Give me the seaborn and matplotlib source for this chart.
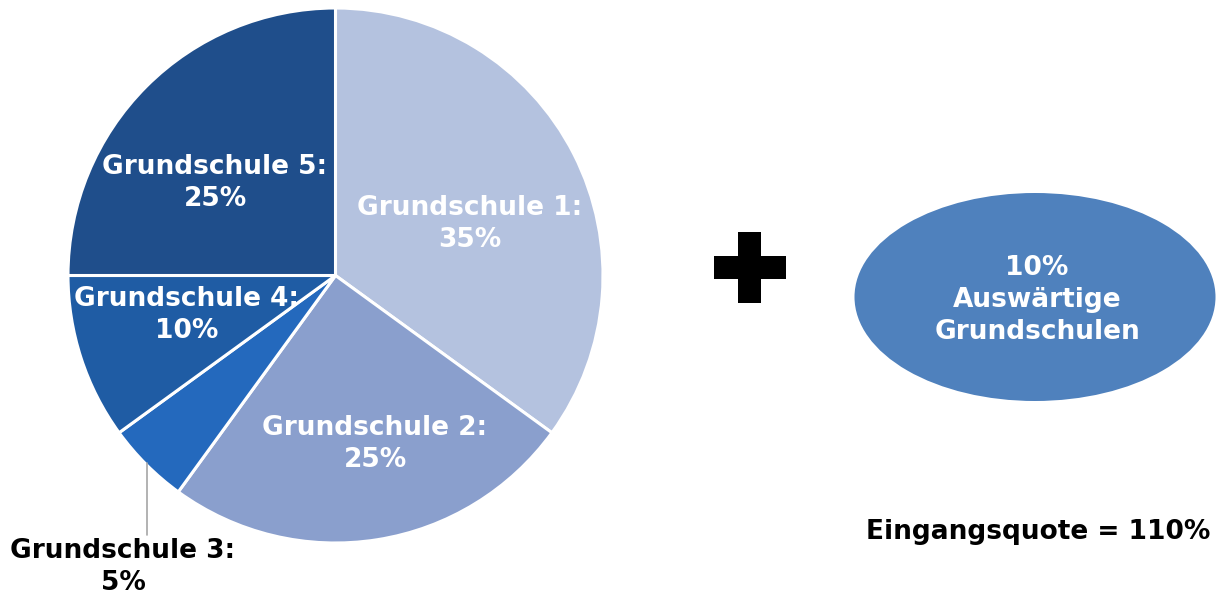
import matplotlib
matplotlib.use("Agg")
import matplotlib.pyplot as plt
from matplotlib.patches import Ellipse, Rectangle
import seaborn as sns

# Anteile der Grundschulen an der Eingangsquote
schools = ["Grundschule 1", "Grundschule 2", "Grundschule 3", "Grundschule 4", "Grundschule 5"]
shares = [35, 25, 5, 10, 25]
external_share = 10
external_label = "Auswärtige\nGrundschulen"
total_quote = 110

colors = ["#B4C2DF", "#8A9FCD", "#2469BD", "#1F5CA4", "#1F4E8B"]

sns.set_theme(style="white")
plt.rcParams["font.family"] = ["DejaVu Sans"]

W, H = 1228, 595
fig = plt.figure(figsize=(W / 100, H / 100), dpi=100)
ax = fig.add_axes([0, 0, 1, 1])
ax.set_xlim(0, W)
ax.set_ylim(0, H)
ax.axis("off")


def py(y):
    # Pixelkoordinate (von oben) -> Achsenkoordinate
    return H - y


center = (335.5, py(275.5))
wedges, _ = ax.pie(shares, colors=colors, startangle=90, counterclock=False,
                   center=center, radius=267.5,
                   wedgeprops=dict(edgecolor="white", linewidth=2.2))
ax.set_xlim(0, W)
ax.set_ylim(0, H)
ax.set_aspect("equal")

# Beschriftung in den Segmenten (x, y in Pixeln)
label_pos = [(470, 224), (375, 444), None, (187, 315), (215, 183)]
fs = 19
ls = 1.3
for name, val, pos in zip(schools, shares, label_pos):
    if pos is None:
        continue
    ax.text(pos[0], py(pos[1]), f"{name}:\n{val}%", ha="center", va="center",
            color="white", fontsize=fs, fontweight="bold", linespacing=ls)

# Grundschule 3 ausserhalb mit Fuehrungslinie
ax.plot([147, 147], [py(463), py(535)], color="#A6A6A6", lw=1.2)
ax.text(123, py(567), f"{schools[2]}:\n{shares[2]}%", ha="center", va="center",
        color="black", fontsize=fs, fontweight="bold", linespacing=ls)

# Pluszeichen
ax.add_patch(Rectangle((738, py(303)), 23, 71, color="black", lw=0))
ax.add_patch(Rectangle((714, py(279)), 72, 23, color="black", lw=0))

# Auswaertige Grundschulen
ax.add_patch(Ellipse((1035, py(297)), 361, 208, color="#4F81BD", lw=0))
ax.text(1037, py(300), f"{external_share}%\n{external_label}", ha="center", va="center",
        color="white", fontsize=fs, fontweight="bold", linespacing=ls)

ax.text(1038, py(532), f"Eingangsquote = {total_quote}%", ha="center", va="center",
        color="black", fontsize=fs, fontweight="bold")

fig.savefig("out.png", dpi=100)
